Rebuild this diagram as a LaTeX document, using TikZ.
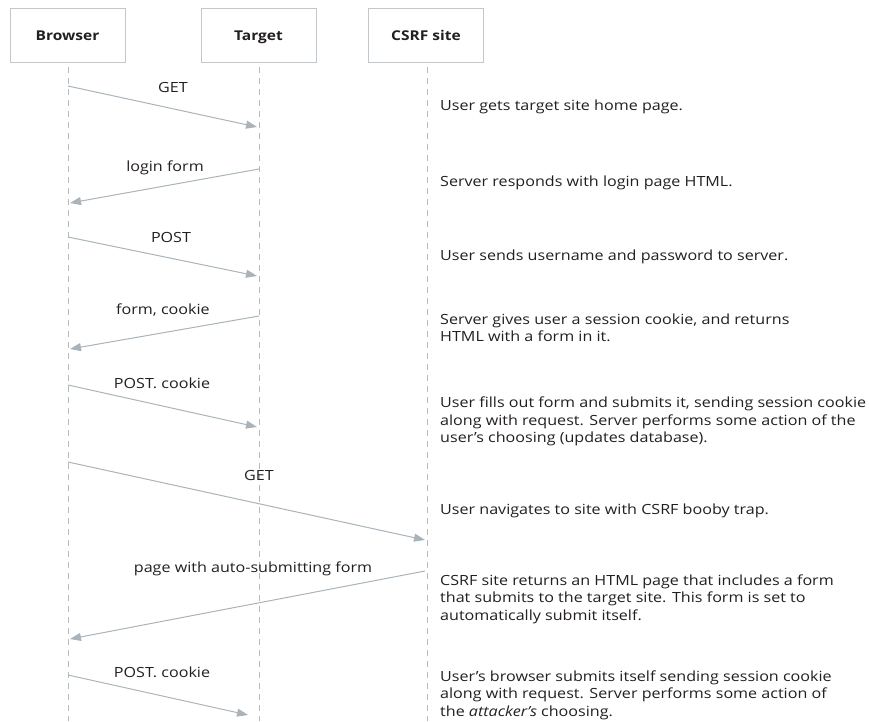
\documentclass[tikz,border=0pt]{standalone}
\usepackage{fontspec}
\setmainfont{Open Sans}[FakeStretch=1.15]
\newfontfamily\boldlab{Open Sans}[FakeStretch=1.08, FakeBold=0]
\usetikzlibrary{arrows.meta}
\definecolor{boxc}{HTML}{C4C7CA}
\definecolor{arrc}{HTML}{A9B3B9}
\definecolor{lifec}{HTML}{B5BABD}
\definecolor{txt}{HTML}{231F20}
\tikzset{
  actor/.style={draw=boxc, line width=1pt, minimum width=115pt, minimum height=54pt, inner sep=0, text height=10pt, text depth=0pt, font=\bfseries\fontsize{13.5}{15}\selectfont, text=txt},
  life/.style={draw=lifec, line width=0.9pt, dash pattern=on 6pt off 5pt},
  msg/.style={draw=arrc, line width=1pt, -{Triangle[length=11pt,width=8pt]}},
  mlabel/.style={font=\fontsize{14}{16}\selectfont, text=txt, inner sep=0, anchor=base},
  desc/.style={font=\fontsize{14}{17.6}\selectfont, text=txt, align=left, anchor=north west, inner sep=0}
}
\newcommand{\fst}{\rule{0pt}{12pt}}
\begin{document}
\begin{tikzpicture}[x=1pt,y=-1pt]
\useasboundingbox (0,0) rectangle (869,721);
% actors
\node[actor] (br) at (67.5,35) {Browser};
\node[actor] (tg) at (258.5,35) {Target};
\node[actor] (cs) at (426,35) {CSRF site};
% lifeline ends
\coordinate (brE) at (68,721);
\coordinate (tgE) at (259,721);
\coordinate (csE) at (427,721);
\draw[life] (br.south -| brE) ++(0,4) -- (brE);
\draw[life] (tg.south -| tgE) ++(0,4) -- (tgE);
\draw[life] (cs.south -| csE) ++(0,4) -- (csE);
% message points
\coordinate (b1) at (68,86);   \coordinate (t1) at (257,127);
\coordinate (t2) at (259,169); \coordinate (b2) at (70,203);
\coordinate (b3) at (68,237);  \coordinate (t3) at (257,276);
\coordinate (t4) at (259,316); \coordinate (b4) at (70,349);
\coordinate (b5) at (68,385);  \coordinate (t5) at (257,427);
\coordinate (b6) at (68,462);  \coordinate (c6) at (425,540);
\coordinate (c7) at (425,571); \coordinate (b7) at (70,639);
\coordinate (b8) at (68,675);  \coordinate (t8) at (248,715);
\draw[msg] (b1) -- (t1);
\draw[msg] (t2) -- (b2);
\draw[msg] (b3) -- (t3);
\draw[msg] (t4) -- (b4);
\draw[msg] (b5) -- (t5);
\draw[msg] (b6) -- (c6);
\draw[msg] (c7) -- (b7);
\draw[msg] (b8) -- (t8);
% message labels
\node[mlabel] (l1) at (173,92) {GET};
\node[mlabel] (l2) at (165,171) {login form};
\node[mlabel] (l3) at (171,242) {POST};
\node[mlabel] (l4) at (163,314.5) {form, cookie};
\node[mlabel] (l5) at (162,388) {POST. cookie};
\node[mlabel] (l6) at (259,480) {GET};
\node[mlabel] (l7) at (253,572.5) {page with auto-submitting form};
\node[mlabel] (l8) at (162,677.5) {POST. cookie};
% descriptions (first baseline = y + 12)
\node[desc] (d1) at (440,98) {\fst User gets target site home page.};
\node[desc] (d2) at (440,174) {\fst Server responds with login page HTML.};
\node[desc] (d3) at (440,248) {\fst User sends username and password to server.};
\node[desc] (d4) at (440,312) {\fst Server gives user a session cookie, and returns\\HTML with a form in it.};
\node[desc] (d5) at (440,395.5) {\fst User fills out form and submits it, sending session cookie\\along with request. Server performs some action of the\\user’s choosing (updates database).};
\node[desc] (d6) at (440,502) {\fst User navigates to site with CSRF booby trap.};
\node[desc] (d7) at (440,573) {\fst CSRF site returns an HTML page that includes a form\\that submits to the target site. This form is set to\\automatically submit itself.};
\node[desc] (d8) at (440,669) {\fst User’s browser submits itself sending session cookie\\along with request. Server performs some action of\\the \textit{attacker’s} choosing.};
\end{tikzpicture}
\end{document}
